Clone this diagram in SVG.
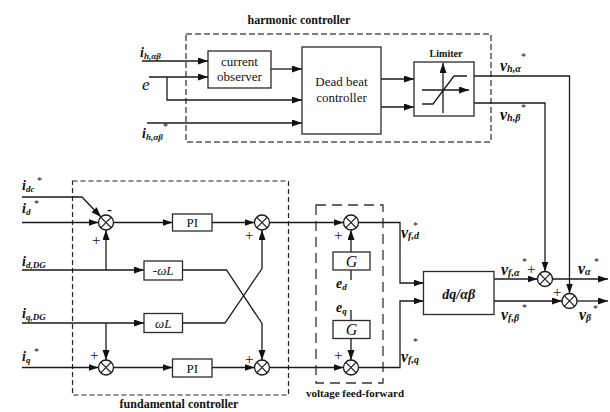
<svg xmlns="http://www.w3.org/2000/svg" xmlns:xlink="http://www.w3.org/1999/xlink" width="610" height="412" viewBox="0 0 610 412">
<style>
.ln{fill:none;stroke:#1a1a1a;stroke-width:1.3}
.ar{marker-end:url(#arr)}
.bx{fill:#fff;stroke:#2a2a2a;stroke-width:1.3}
.t{font-family:"Liberation Serif","Times New Roman",serif;fill:#111}
.pm{font-family:"Liberation Serif","Times New Roman",serif;fill:#111;font-size:15px}
.lbl{font-family:"Liberation Serif","Times New Roman",serif;font-weight:bold;font-style:italic;fill:#111;font-size:14px}
.vl{font-size:16px}
.sub{font-size:9px}
.vsub{font-size:10px}
.st{font-family:"Liberation Serif",serif;font-size:10px;fill:#111}
.pl{font-family:"Liberation Serif",serif;font-size:13px;fill:#111}
.ttl{font-family:"Liberation Serif","Times New Roman",serif;font-weight:bold;fill:#111}
</style>
<defs>
<marker id="arr" markerUnits="userSpaceOnUse" markerWidth="11" markerHeight="8" refX="10" refY="3.5" orient="auto">
<path d="M0,0 L10,3.5 L0,7 z" fill="#111"/>
</marker>
<g id="sumsym">
<circle r="7.5" fill="#fff" stroke="#1a1a1a" stroke-width="1.3"/>
<path d="M-5.3,-5.3 L5.3,5.3 M-5.3,5.3 L5.3,-5.3" stroke="#1a1a1a" stroke-width="1.2"/>
</g>
</defs>
<rect width="610" height="412" fill="#fff"/>

<g id="harmonic-controller">
<rect x="186" y="34" width="305" height="108" fill="none" stroke="#555" stroke-width="1.5" stroke-dasharray="6,3"/>
<text class="ttl" x="299" y="24" font-size="12" text-anchor="middle">harmonic  controller</text>
</g>
<g id="fundamental-controller">
<rect x="72.5" y="181" width="216" height="214" fill="none" stroke="#222" stroke-width="1.2" stroke-dasharray="5,3"/>
<text class="ttl" x="179" y="408" font-size="12" text-anchor="middle">fundamental controller</text>
</g>
<g id="voltage-feed-forward">
<rect x="316" y="205" width="67" height="178" fill="none" stroke="#333" stroke-width="1.3" stroke-dasharray="10,6"/>
<text class="ttl" x="355" y="397" font-size="11" text-anchor="middle">voltage feed-forward</text>
</g>

<g id="connectors">
<line class="ln ar" x1="142" y1="61" x2="208" y2="61"/>
<line class="ln ar" x1="149" y1="77" x2="208" y2="77"/>
<polyline class="ln ar" points="167,77 167,100 302,100"/>
<line class="ln ar" x1="147" y1="123" x2="302" y2="123"/>
<line class="ln ar" x1="271" y1="69" x2="302" y2="69"/>
<line class="ln ar" x1="381" y1="79" x2="414" y2="79"/>
<line class="ln ar" x1="381" y1="107" x2="414" y2="107"/>
<polyline class="ln ar" points="474,76 569.5,76 569.5,293.5"/>
<polyline class="ln ar" points="474,103 545,103 545,271.5"/>
<polyline class="ln ar" points="22,197 82,197 101,217"/>
<line class="ln ar" x1="22" y1="222.5" x2="98.5" y2="222.5"/>
<line class="ln ar" x1="22" y1="270" x2="144" y2="270"/>
<line class="ln ar" x1="106" y1="270" x2="106" y2="230"/>
<line class="ln ar" x1="113.5" y1="222.5" x2="172.5" y2="222.5"/>
<line class="ln ar" x1="212" y1="222.5" x2="254.5" y2="222.5"/>
<line class="ln ar" x1="269.5" y1="222.5" x2="343.5" y2="222.5"/>
<polyline class="ln ar" points="182.5,270 226.5,270 262,323.5 262,360"/>
<line class="ln ar" x1="22" y1="323" x2="144" y2="323"/>
<polyline class="ln ar" points="182.5,323 225,323 262,268.5 262,230"/>
<line class="ln ar" x1="106" y1="323" x2="106" y2="360"/>
<line class="ln ar" x1="22" y1="367.5" x2="98.5" y2="367.5"/>
<line class="ln ar" x1="113.5" y1="367.5" x2="172.5" y2="367.5"/>
<line class="ln ar" x1="212" y1="367.5" x2="254.5" y2="367.5"/>
<line class="ln ar" x1="269.5" y1="367.5" x2="343.5" y2="367.5"/>
<line class="ln ar" x1="351" y1="252" x2="351" y2="230"/>
<line class="ln" x1="351" y1="280" x2="351" y2="270"/>
<line class="ln" x1="351" y1="310" x2="351" y2="320.5"/>
<line class="ln ar" x1="351" y1="338.5" x2="351" y2="360"/>
<polyline class="ln ar" points="358.5,222.5 400,222.5 400,283 423.5,283"/>
<polyline class="ln ar" points="358.5,367.5 400,367.5 400,301 423.5,301"/>
<line class="ln ar" x1="494" y1="279" x2="537.5" y2="279"/>
<line class="ln ar" x1="494" y1="301" x2="562" y2="301"/>
<line class="ln ar" x1="552.5" y1="279" x2="608" y2="279"/>
<line class="ln ar" x1="577" y1="301" x2="608" y2="301"/>
</g>

<g id="current-observer">
<rect class="bx" x="208" y="51" width="63" height="37"/>
<text class="pl" x="239.5" y="66" text-anchor="middle">current</text>
<text class="pl" x="239.5" y="81" text-anchor="middle">observer</text>
</g>
<g id="dead-beat-controller">
<rect class="bx" x="302" y="47" width="79" height="87"/>
<text class="pl" x="341.5" y="86" text-anchor="middle">Dead beat</text>
<text class="pl" x="341.5" y="102" text-anchor="middle">controller</text>
</g>
<g id="limiter">
<rect class="bx" x="414" y="62" width="60" height="54"/>
<text class="ttl" x="446" y="57" font-size="10" text-anchor="middle">Limiter</text>
<line class="ln ar" x1="443" y1="113" x2="443" y2="63"/>
<line class="ln ar" x1="422" y1="90" x2="469" y2="90"/>
<polyline class="ln" points="422,104 433,104 454,76 467,76"/>
</g>

<g id="sum-d1"><use xlink:href="#sumsym" x="106" y="222.5"/>
<text class="t" x="107" y="214" font-size="15" font-weight="bold">-</text>
<text class="pm" x="92" y="245">+</text></g>
<g id="pi-d"><rect class="bx" x="172.5" y="214" width="39.5" height="17"/>
<text class="pl" x="192.2" y="227" text-anchor="middle">PI</text></g>
<g id="sum-d2"><use xlink:href="#sumsym" x="262" y="222.5"/>
<text class="pm" x="245" y="240">+</text></g>
<g id="neg-omega-l"><rect class="bx" x="144" y="261" width="38.5" height="19"/>
<text class="t" x="163.2" y="275" font-size="13" font-style="italic" text-anchor="middle">-ωL</text></g>
<g id="omega-l"><rect class="bx" x="144" y="313.5" width="38.5" height="19"/>
<text class="t" x="163.2" y="327.5" font-size="13" font-style="italic" text-anchor="middle">ωL</text></g>
<g id="sum-q1"><use xlink:href="#sumsym" x="106" y="367.5"/>
<text class="pm" x="90" y="360">+</text></g>
<g id="pi-q"><rect class="bx" x="172.5" y="359" width="39.5" height="18"/>
<text class="pl" x="192.2" y="372.5" text-anchor="middle">PI</text></g>
<g id="sum-q2"><use xlink:href="#sumsym" x="262" y="367.5"/>
<text class="pm" x="245" y="364">+</text></g>

<g id="sum-ffd"><use xlink:href="#sumsym" x="351" y="222.5"/>
<text class="pm" x="334" y="240">+</text></g>
<g id="g-d"><rect class="bx" x="333" y="252" width="37" height="18"/>
<text class="t" x="351.5" y="266.5" font-size="16" font-style="italic" text-anchor="middle">G</text></g>
<g id="g-q"><rect class="bx" x="333" y="320.5" width="37" height="18"/>
<text class="t" x="351.5" y="335" font-size="16" font-style="italic" text-anchor="middle">G</text></g>
<g id="sum-ffq"><use xlink:href="#sumsym" x="351" y="367.5"/>
<text class="pm" x="334" y="360">+</text></g>

<g id="dq-alphabeta"><rect class="bx" x="423.5" y="271.5" width="70.5" height="43"/>
<text class="lbl" x="458.7" y="298.5" font-size="15" text-anchor="middle">dq/αβ</text></g>
<g id="sum-alpha"><use xlink:href="#sumsym" x="545" y="279"/>
<text class="pm" x="527" y="274">+</text></g>
<g id="sum-beta"><use xlink:href="#sumsym" x="569.5" y="301"/>
<text class="pm" x="553" y="296.5">+</text></g>

<g id="labels">
<text class="lbl" x="140" y="57">i<tspan class="sub" dy="2">h,αβ</tspan></text>
<text class="t" x="142" y="90" font-size="17" font-style="italic">e</text>
<text class="lbl" x="142" y="138">i<tspan class="sub" dy="2">h,αβ</tspan></text>
<text class="st" x="163" y="130">*</text>
<text class="lbl vl" x="500" y="71">v<tspan class="vsub" dy="1">h,α</tspan></text>
<text class="st" x="521" y="60">*</text>
<text class="lbl vl" x="500" y="120">v<tspan class="vsub" dy="1">h,β</tspan></text>
<text class="st" x="521" y="111">*</text>

<text class="lbl" x="22" y="190">i<tspan class="sub" dy="2">dc</tspan></text>
<text class="st" x="37" y="184">*</text>
<text class="lbl" x="22" y="213">i<tspan class="sub" dy="2">d</tspan></text>
<text class="st" x="34" y="207">*</text>
<text class="lbl" x="22" y="266">i<tspan class="sub" dy="2">d,DG</tspan></text>
<text class="lbl" x="22" y="318">i<tspan class="sub" dy="2">q,DG</tspan></text>
<text class="lbl" x="22" y="361">i<tspan class="sub" dy="2">q</tspan></text>
<text class="st" x="34" y="355">*</text>

<text class="lbl" x="336" y="288">e<tspan class="sub" dy="2">d</tspan></text>
<text class="lbl" x="336" y="312">e<tspan class="sub" dy="2">q</tspan></text>

<text class="lbl vl" x="401" y="238">v<tspan class="vsub" dy="1">f,d</tspan></text>
<text class="st" x="413" y="229">*</text>
<text class="lbl vl" x="401" y="362">v<tspan class="vsub" dy="1">f,q</tspan></text>
<text class="st" x="413" y="345">*</text>

<text class="lbl vl" x="501" y="275">v<tspan class="vsub" dy="1">f,α</tspan></text>
<text class="st" x="522" y="265">*</text>
<text class="lbl vl" x="578" y="274">v<tspan class="vsub" dy="1">α</tspan></text>
<text class="st" x="594" y="265">*</text>
<text class="lbl vl" x="501" y="320">v<tspan class="vsub" dy="1">f,β</tspan></text>
<text class="st" x="522" y="311">*</text>
<text class="lbl vl" x="579" y="320">v<tspan class="vsub" dy="1">β</tspan></text>
<text class="st" x="593" y="312">*</text>
</g>
</svg>
